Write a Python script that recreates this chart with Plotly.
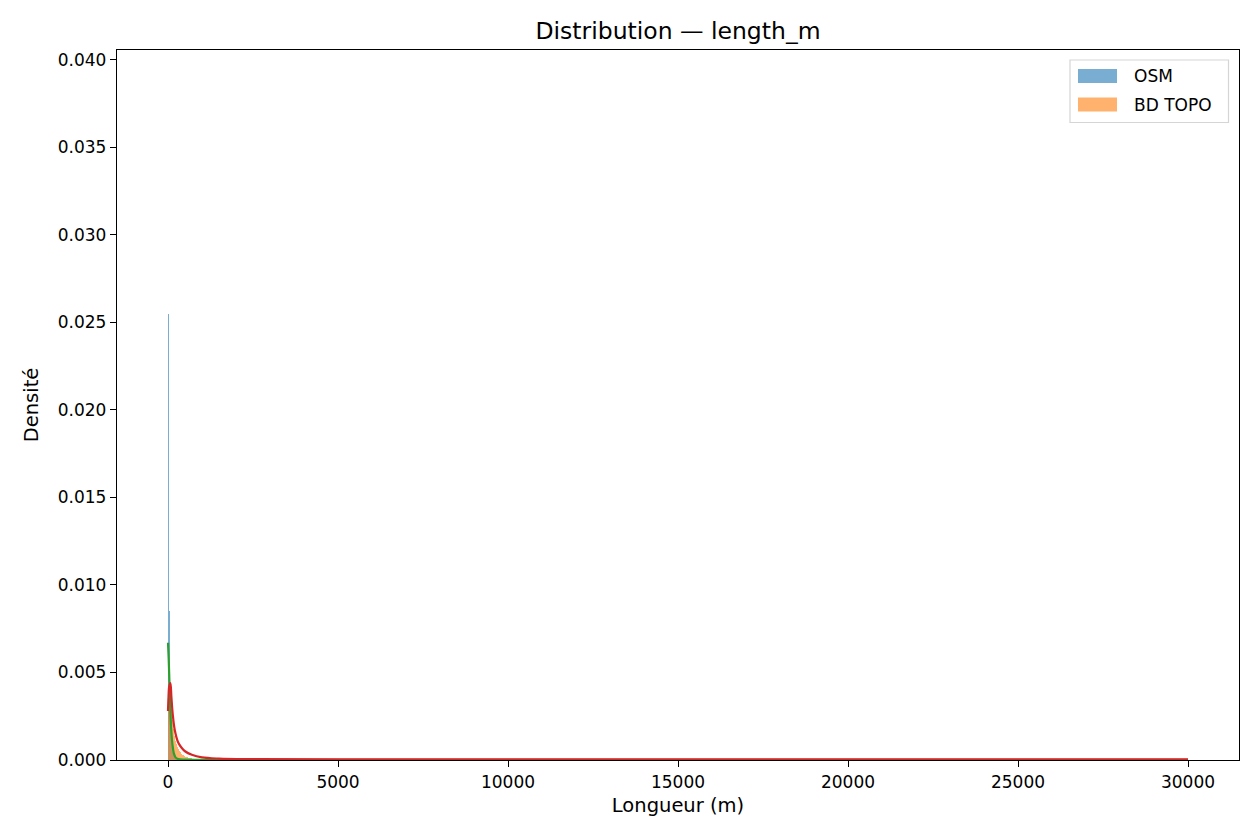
import plotly.graph_objects as go

# ---- data ----
bin_width = 30.0
osm_bin_left = [0, 30, 60, 90, 120, 150, 180, 210, 240, 270]
osm_density = [0.0255, 0.0085, 0.0035, 0.0018, 0.0010, 0.0006, 0.0003, 0.0002, 0.0001, 0.00005]

bd_bin_left = [0, 30, 60, 90, 120, 150, 180, 210, 240, 270, 300, 330, 360, 390, 420,
               450, 480, 510, 540, 570, 600, 630, 660, 690, 720]
bd_density = [0.0042, 0.0043, 0.0036, 0.0029, 0.0023, 0.0018, 0.0014, 0.0011, 0.0009, 0.00075,
              0.00062, 0.00052, 0.00044, 0.00037, 0.00031, 0.00027, 0.00023, 0.0002, 0.00017,
              0.00015, 0.00013, 0.00011, 0.0001, 0.00009, 0.00008]

kde_osm_x = [0, 20, 40, 60, 80, 100, 130, 170, 220, 300, 500, 1000, 30000]
kde_osm_y = [0.0067, 0.0058, 0.0046, 0.0034, 0.0024, 0.0016, 0.0009, 0.0004, 0.00015,
             0.00005, 0.00002, 0.00001, 0.00001]

kde_bd_x = [0, 15, 35, 70, 100, 140, 200, 300, 400, 500, 700, 1000, 1500, 2500, 5000, 30000]
kde_bd_y = [0.0028, 0.0036, 0.0042, 0.0044, 0.0036, 0.0026, 0.0017, 0.0010, 0.0007, 0.0005,
            0.0003, 0.00015, 0.00008, 0.00005, 0.00004, 0.00004]

legend_names = ["OSM", "BD TOPO"]
x_ticks = [0, 5000, 10000, 15000, 20000, 25000, 30000]
y_ticks = [0.000, 0.005, 0.010, 0.015, 0.020, 0.025, 0.030, 0.035, 0.040]

FONT = "DejaVu Sans"
BLUE = "rgba(31,119,180,0.6)"
ORANGE = "rgba(255,127,14,0.6)"

# page body has an 8px margin: figure drawn at (8, 8) in the window
W, H = 1252, 832
ML, MR, MT, MB = 109, 21, 42, 80
PW, PH = W - ML - MR, H - MT - MB


def px(xwin):
    return (xwin - 8 - ML) / PW


def py(ywin):
    return 1 - (ywin - 8 - MT) / PH


fig = go.Figure()
fig.add_trace(go.Bar(
    x=[b + bin_width / 2 for b in osm_bin_left], y=osm_density, width=bin_width,
    name=legend_names[0], marker=dict(color=BLUE, line=dict(width=0)), showlegend=False,
))
fig.add_trace(go.Bar(
    x=[b + bin_width / 2 for b in bd_bin_left], y=bd_density, width=bin_width,
    name=legend_names[1], marker=dict(color=ORANGE, line=dict(width=0)), showlegend=False,
))
fig.add_trace(go.Scatter(
    x=kde_osm_x, y=kde_osm_y, mode="lines", line=dict(color="#2ca02c", width=2.2),
    showlegend=False, line_shape="spline",
))
fig.add_trace(go.Scatter(
    x=kde_bd_x, y=kde_bd_y, mode="lines", line=dict(color="#d62728", width=2.2),
    showlegend=False, line_shape="spline",
))

# custom legend (matplotlib style)
shapes = [
    dict(type="rect", xref="paper", yref="paper", x0=px(1070), x1=px(1228.5), y0=py(122.5), y1=py(60),
         line=dict(color="#d5d5d5", width=1.2), fillcolor="rgba(255,255,255,0.8)", layer="above"),
    dict(type="rect", xref="paper", yref="paper", x0=px(1078), x1=px(1117), y0=py(83), y1=py(69),
         line=dict(width=0), fillcolor=BLUE, layer="above"),
    dict(type="rect", xref="paper", yref="paper", x0=px(1078), x1=px(1117), y0=py(111.5), y1=py(97.5),
         line=dict(width=0), fillcolor=ORANGE, layer="above"),
]
annotations = [
    dict(text=legend_names[0], xref="paper", yref="paper", x=px(1132), y=py(76), xanchor="left",
         yanchor="middle", showarrow=False, font=dict(family=FONT, size=17, color="black")),
    dict(text=legend_names[1], xref="paper", yref="paper", x=px(1132), y=py(104.5), xanchor="left",
         yanchor="middle", showarrow=False, font=dict(family=FONT, size=17, color="black")),
]

axis_common = dict(
    showline=True, linecolor="black", linewidth=1.3, mirror=True,
    ticks="outside", ticklen=6, tickwidth=1.3, tickcolor="black",
    showgrid=False, zeroline=False,
    tickfont=dict(family=FONT, size=17, color="black"),
)

fig.update_layout(
    width=W, height=H,
    margin=dict(l=ML, r=MR, t=MT, b=MB),
    paper_bgcolor="white", plot_bgcolor="white",
    barmode="overlay", bargap=0,
    showlegend=False,
    shapes=shapes, annotations=annotations,
    title=dict(text="Distribution — length_m", x=(ML + PW / 2) / W, xanchor="center",
               y=1 - (31 - 8) / H, yanchor="middle",
               font=dict(family=FONT, size=23.5, color="black")),
    xaxis=dict(range=[-1500, 31500], tickvals=x_ticks, ticktext=[str(v) for v in x_ticks],
               title=dict(text="Longueur (m)", font=dict(family=FONT, size=19.5, color="black"),
                          standoff=7),
               **axis_common),
    yaxis=dict(range=[0, 0.04057], tickvals=y_ticks, ticktext=[f"{v:.3f}" for v in y_ticks],
               title=dict(text="Densité", font=dict(family=FONT, size=19.5, color="black"),
                          standoff=13),
               **axis_common),
)

fig.write_html("out.html")
